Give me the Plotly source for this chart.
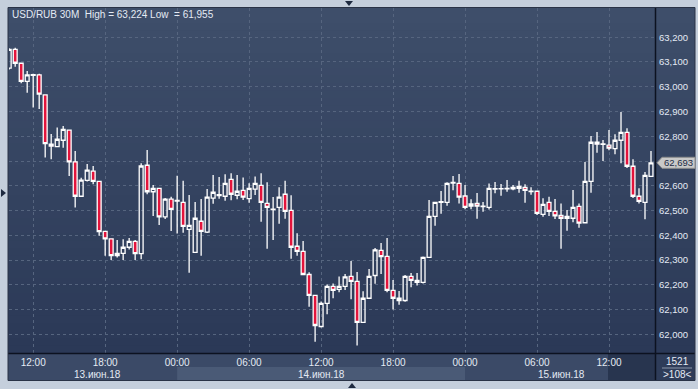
import plotly.graph_objects as go
import pandas as pd

# ---------------- data (USD/RUB, 30-minute candles) ----------------
start_time = "2018-06-13 10:00"
opens = [63075, 63151, 63095, 63022, 63046, 63048, 62967, 62768, 62758, 62784,
         62825, 62697, 62558, 62622, 62659, 62618, 62416, 62386, 62318, 62327,
         62352, 62376, 62326, 62683, 62576, 62590, 62475, 62546, 62538, 62533,
         62424, 62331, 62457, 62413, 62550, 62561, 62558, 62626, 62562, 62582,
         62548, 62587, 62602, 62529, 62504, 62513, 62566, 62501, 62356, 62335,
         62242, 62158, 62032, 62125, 62194, 62182, 62194, 62234, 62214, 62049,
         62146, 62238, 62339, 62315, 62178, 62146, 62137, 62234, 62218, 62210,
         62311, 62477, 62533, 62533, 62611, 62610, 62559, 62518, 62529, 62516,
         62513, 62587, 62588, 62588, 62588, 62598, 62594, 62577, 62578, 62485,
         62533, 62497, 62481, 62469, 62469, 62517, 62451, 62618, 62776, 62767,
         62764, 62750, 62784, 62816, 62679, 62558, 62533, 62638]
highs = [63155, 63158, 63095, 63064, 63053, 63053, 62970, 62809, 62836, 62842,
         62827, 62741, 62633, 62688, 62680, 62620, 62418, 62388, 62381, 62384,
         62389, 62381, 62691, 62745, 62603, 62592, 62551, 62556, 62641, 62620,
         62563, 62535, 62547, 62587, 62644, 62636, 62647, 62651, 62644, 62634,
         62610, 62638, 62651, 62614, 62555, 62594, 62620, 62562, 62409, 62377,
         62251, 62160, 62133, 62202, 62206, 62234, 62244, 62296, 62252, 62174,
         62264, 62349, 62369, 62389, 62220, 62175, 62240, 62248, 62248, 62315,
         62543, 62535, 62579, 62614, 62640, 62648, 62603, 62546, 62571, 62535,
         62609, 62615, 62607, 62624, 62603, 62620, 62606, 62594, 62580, 62550,
         62556, 62547, 62529, 62502, 62583, 62529, 62696, 62801, 62817, 62785,
         62825, 62808, 62898, 62832, 62707, 62590, 62656, 62741]
lows = [63070, 63081, 63014, 62976, 62916, 62910, 62714, 62707, 62756, 62754,
        62640, 62512, 62555, 62617, 62606, 62398, 62318, 62300, 62311, 62300,
        62343, 62300, 62304, 62566, 62478, 62442, 62466, 62418, 62408, 62411,
        62249, 62329, 62318, 62410, 62528, 62548, 62540, 62542, 62546, 62543,
        62532, 62563, 62455, 62346, 62381, 62447, 62467, 62306, 62318, 62240,
        62112, 61970, 62028, 62081, 62146, 62170, 62179, 62142, 61955, 62047,
        62144, 62205, 62244, 62170, 62101, 62120, 62132, 62190, 62198, 62206,
        62309, 62439, 62487, 62520, 62582, 62529, 62505, 62505, 62467, 62495,
        62504, 62570, 62560, 62576, 62582, 62572, 62532, 62564, 62482, 62475,
        62478, 62466, 62346, 62419, 62453, 62431, 62449, 62572, 62734, 62700,
        62744, 62727, 62691, 62672, 62551, 62529, 62465, 62636]
closes = [63151, 63095, 63022, 63048, 63049, 62970, 62770, 62760, 62788, 62828,
          62697, 62558, 62623, 62663, 62618, 62415, 62386, 62318, 62327, 62352,
          62376, 62326, 62680, 62576, 62590, 62475, 62546, 62505, 62541, 62436,
          62440, 62469, 62416, 62554, 62574, 62564, 62610, 62566, 62578, 62554,
          62590, 62610, 62533, 62513, 62506, 62554, 62497, 62352, 62335, 62242,
          62158, 62036, 62125, 62194, 62178, 62194, 62232, 62214, 62049, 62146,
          62234, 62341, 62314, 62178, 62146, 62137, 62234, 62218, 62210, 62311,
          62477, 62533, 62536, 62610, 62614, 62554, 62513, 62527, 62518, 62518,
          62590, 62589, 62589, 62590, 62594, 62590, 62582, 62579, 62489, 62525,
          62497, 62479, 62469, 62477, 62513, 62449, 62618, 62776, 62768, 62769,
          62752, 62784, 62816, 62679, 62558, 62537, 62642, 62693]

title_text = "USD/RUB 30M\u00a0 High = 63,224 Low\u00a0 = 61,955"
y_ticks = list(range(62000, 63201, 100))
x_tick_start, x_tick_end = "2018-06-13 12:00", "2018-06-15 12:00"
day_labels = ["13.июн.18", "14.июн.18", "15.июн.18"]
day_label_times = ["2018-06-13 17:20", "2018-06-14 12:00", "2018-06-15 08:00"]
day_band = ["2018-06-14 00:00", "2018-06-15 00:00"]
bar_count_text = "1521"
visible_text = ">108<"

times = pd.date_range(start_time, periods=len(opens), freq="30min")
x_ticks = pd.date_range(x_tick_start, x_tick_end, freq="6h")
last = closes[-1]
# the last-price marker covers the nearest tick label
y_ticktext = ["" if abs(v - last) < 50 else f"{v:,}" for v in y_ticks]

# ---------------- geometry helpers (layout only) ----------------
W, H = 698, 389
ML, MR, MT, MB = 9, 43, 8, 36
PW, PH = W - ML - MR, H - MT - MB
YMIN, YMAX = 61925, 63318


def px(p):
    return (p - ML) / PW


def py(p):
    return (H - MB - p) / PH


shapes = []
# gradient background (plot + right axis area)
top_c, bot_c = (62, 78, 106), (43, 57, 87)
N = 46
y_top, y_bot = 8, 353
for i in range(N):
    t = i / (N - 1)
    c = tuple(round(top_c[k] + (bot_c[k] - top_c[k]) * t) for k in range(3))
    a = y_top + (y_bot - y_top) * i / N
    b = y_top + (y_bot - y_top) * (i + 1) / N + 0.6
    shapes.append(dict(type="rect", xref="paper", yref="paper", layer="below",
                       x0=px(8), x1=px(695), y0=py(b), y1=py(a),
                       fillcolor="rgb(%d,%d,%d)" % c, line=dict(width=0)))
# bottom strip
shapes.append(dict(type="rect", xref="paper", yref="paper", layer="below",
                   x0=px(8), x1=px(655), y0=py(380), y1=py(353),
                   fillcolor="#3b4a67", line=dict(width=0)))
shapes.append(dict(type="rect", xref="x", yref="paper", layer="below",
                   x0=day_band[0], x1=day_band[1], y0=py(380), y1=py(367),
                   fillcolor="#4a5a76", line=dict(width=0)))
shapes.append(dict(type="rect", xref="paper", yref="paper", layer="below",
                   x0=px(608), x1=px(655), y0=py(380), y1=py(354),
                   fillcolor="#28354f", line=dict(width=0)))
# right bottom cell
shapes.append(dict(type="rect", xref="paper", yref="paper", layer="below",
                   x0=px(655), x1=px(695), y0=py(380), y1=py(353),
                   fillcolor="#2e3c59", line=dict(width=0)))
shapes.append(dict(type="line", xref="paper", yref="paper",
                   x0=px(662), x1=px(692), y0=py(368), y1=py(368),
                   line=dict(color="#8a96aa", width=1)))
# frame lines
shapes.append(dict(type="line", xref="paper", yref="paper",
                   x0=px(8), x1=px(695), y0=py(353.5), y1=py(353.5),
                   line=dict(color="#0c1220", width=1.5)))
shapes.append(dict(type="line", xref="paper", yref="paper",
                   x0=px(655.5), x1=px(655.5), y0=py(380), y1=py(8),
                   line=dict(color="#0c1220", width=1.5)))
shapes.append(dict(type="rect", xref="paper", yref="paper",
                   x0=px(8), x1=px(695), y0=py(380.5), y1=py(7.5),
                   line=dict(color="#2a3346", width=1)))
# small navigation triangles
tri_col = "#1e2a40"
for pts in [[(345, 1), (353, 1), (349, 6)],
            [(348, 388), (356, 388), (352, 383)],
            [(1, 189), (1, 197), (6, 193)]]:
    path = "M %f,%f L %f,%f L %f,%f Z" % (px(pts[0][0]), py(pts[0][1]),
                                          px(pts[1][0]), py(pts[1][1]),
                                          px(pts[2][0]), py(pts[2][1]))
    shapes.append(dict(type="path", xref="paper", yref="paper", path=path,
                       fillcolor=tri_col, line=dict(width=0)))

# last price marker
ly = (last - YMIN) / (YMAX - YMIN)
hh = 5.5 / PH
path = "M %f,%f L %f,%f L %f,%f L %f,%f L %f,%f Z" % (
    px(657), ly, px(662), ly + hh, px(695), ly + hh, px(695), ly - hh, px(662), ly - hh)
shapes.append(dict(type="path", xref="paper", yref="paper", path=path,
                   fillcolor="#c9c9c9", line=dict(color="#8e8e8e", width=1)))

txt_col = "#e4eaf4"
FONT = "Liberation Sans"
annotations = [
    dict(text=title_text, x=px(10), y=py(15), xref="paper", yref="paper",
         xanchor="left", yanchor="middle", showarrow=False,
         font=dict(family=FONT, size=10, color=txt_col)),
    dict(text=f"{last:,}", x=px(662), y=ly, xref="paper", yref="paper",
         xanchor="left", yanchor="middle", showarrow=False,
         font=dict(family=FONT, size=9.5, color="#1d2b44")),
    dict(text=bar_count_text, x=px(677), y=py(361), xref="paper", yref="paper",
         xanchor="center", yanchor="middle", showarrow=False,
         font=dict(family=FONT, size=10, color=txt_col)),
    dict(text=visible_text, x=px(677), y=py(374), xref="paper", yref="paper",
         xanchor="center", yanchor="middle", showarrow=False,
         font=dict(family=FONT, size=10, color=txt_col)),
]
for lab, t in zip(day_labels, day_label_times):
    annotations.append(dict(text=lab, x=t, y=py(374), xref="x", yref="paper",
                            xanchor="center", yanchor="middle", showarrow=False,
                            font=dict(family=FONT, size=10, color=txt_col)))

fig = go.Figure(go.Candlestick(
    x=times, open=opens, high=highs, low=lows, close=closes,
    increasing=dict(line=dict(color="#ffffff", width=1.3), fillcolor="rgba(0,0,0,0)"),
    decreasing=dict(line=dict(color="#ffffff", width=1.3), fillcolor="#e3143c"),
    whiskerwidth=0, hoverinfo="skip", showlegend=False,
))

fig.update_layout(
    width=W, height=H, autosize=False,
    margin=dict(l=ML, r=MR, t=MT, b=MB),
    paper_bgcolor="#c5cfdc", plot_bgcolor="rgba(0,0,0,0)",
    boxgap=0.24, boxgroupgap=0.15,
    shapes=shapes, annotations=annotations, showlegend=False,
    xaxis=dict(type="date", range=["2018-06-13 09:59", "2018-06-15 15:50"],
               rangeslider=dict(visible=False),
               tickvals=list(x_ticks), tickformat="%H:%M",
               showgrid=True, gridcolor="#56657f", griddash="3px,3px", gridwidth=1,
               ticks="", showline=False, zeroline=False, ticklabelstandoff=2,
               tickfont=dict(family=FONT, size=10, color=txt_col)),
    yaxis=dict(side="right", range=[YMIN, YMAX], tickvals=y_ticks, ticktext=y_ticktext,
               showgrid=True, gridcolor="#56657f", griddash="3px,3px", gridwidth=1,
               ticks="", showline=False, zeroline=False, ticklabelstandoff=3,
               tickfont=dict(family=FONT, size=9.5, color=txt_col)),
)

fig.write_html(
    "out.html",
    config={"displayModeBar": False},
    post_script="document.body.style.margin='0';document.body.style.overflow='hidden';",
)
